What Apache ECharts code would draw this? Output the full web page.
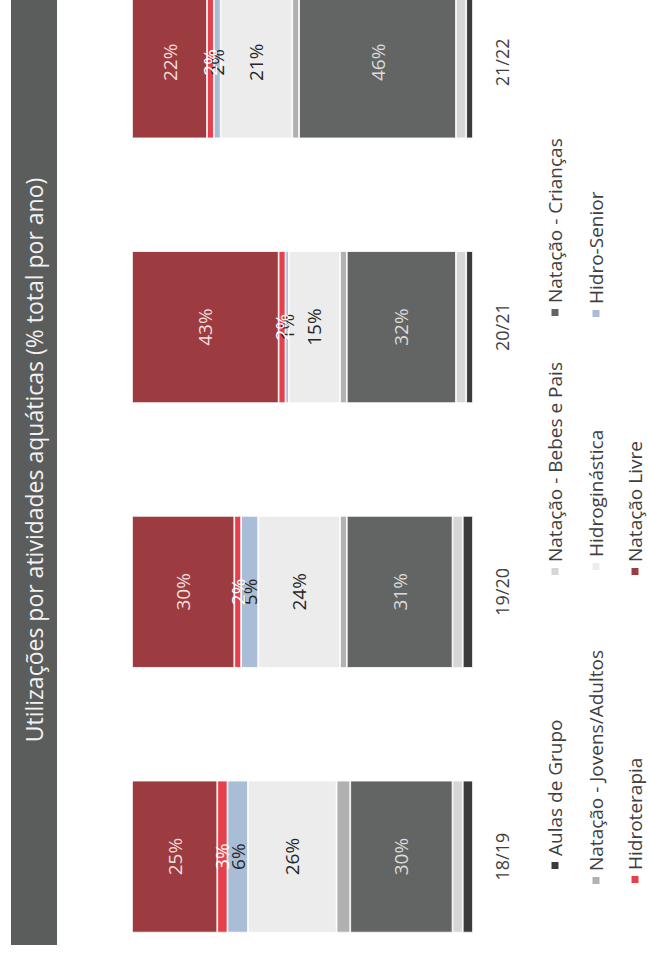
<!DOCTYPE html>
<html>
<head>
<meta charset="utf-8">
<script src="https://cdn.jsdelivr.net/npm/echarts@6/dist/echarts.min.js"></script>
<style>
  html, body { margin: 0; padding: 0; background: #fff; overflow: hidden; }
  #page { width: 649px; height: 964px; position: relative; overflow: hidden; }
  /* the chart is laid out landscape and turned a quarter to the left */
  #chart {
    position: absolute; left: 0; top: 0;
    width: 964px; height: 649px;
    transform-origin: 0 0;
    transform: translateY(964px) rotate(-90deg);
  }
</style>
</head>
<body>
<div id="page"><div id="chart"></div></div>
<script>
// Seasons
const seasons = ['18/19', '19/20', '20/21', '21/22'];

// Share of uses per activity (% of the season total), stacked from the base up
const aulasGrupo      = [3, 3, 2, 2];
const bebesPais       = [3, 3, 3, 3];
const criancas        = [30, 31, 32, 46];
const jovensAdultos   = [4, 2, 2, 2];
const hidroginastica  = [26, 24, 15, 21];
const hidroSenior     = [6, 5, 1, 2];
const hidroterapia    = [3, 2, 2, 2];
const natacaoLivre    = [25, 30, 43, 22];

const titleText = 'Utilizações por atividades aquáticas (% total por ano)';

const FONT = '"Open Sans", "Noto Sans", sans-serif';

function seg(name, data, color, labelColor) {
  return {
    name: name,
    type: 'bar',
    stack: 'total',
    data: data,
    barWidth: 152,
    itemStyle: { color: color, borderColor: '#ffffff', borderWidth: 0.8 },
    label: labelColor ? {
      show: true,
      position: 'inside',
      formatter: '{c}%',
      color: labelColor,
      fontFamily: FONT,
      fontSize: 19
    } : { show: false },
    emphasis: { disabled: true }
  };
}

const series = [
  seg('Aulas de Grupo', aulasGrupo, '#3b3b3b'),
  seg('Natação - Bebes e Pais', bebesPais, '#d6d6d6'),
  seg('Natação - Crianças', criancas, '#636564', '#dcdcdc'),
  seg('Natação - Jovens/Adultos', jovensAdultos, '#b1b1b1'),
  seg('Hidroginástica', hidroginastica, '#ececec', '#262626'),
  seg('Hidro-Senior', hidroSenior, '#aabdd6', '#262626'),
  seg('Hidroterapia', hidroterapia, '#e5414c', '#ffffff'),
  seg('Natação Livre', natacaoLivre, '#9d3c40', '#f3dede')
];

// one legend entry, placed by its marker's left edge and its row's centre line
function legendItem(name, left, rowCenter) {
  return {
    left: left,
    top: rowCenter - 11,
    data: [name],
    icon: 'rect',
    itemWidth: 9,
    itemHeight: 9,
    padding: 0,
    selectedMode: false,
    textStyle: { fontFamily: FONT, fontSize: 19, color: '#404040', lineHeight: 22 }
  };
}

const ROW1 = 555, ROW2 = 596, ROW3 = 635;

const chart = echarts.init(document.getElementById('chart'), null, { renderer: 'svg' });
chart.setOption({
  animation: false,
  backgroundColor: '#ffffff',
  graphic: [
    {
      type: 'rect',
      shape: { x: 19, y: 11, width: 960, height: 46 },
      style: { fill: '#5b5d5c' },
      silent: true
    },
    {
      type: 'text',
      x: 504, y: 34,
      style: {
        text: titleText,
        fill: '#f2f2f2',
        font: '23px ' + FONT,
        textAlign: 'center',
        textVerticalAlign: 'middle'
      },
      silent: true
    }
  ],
  grid: {
    left: -25, width: 1059, top: 132, bottom: 176,
    containLabel: false,
    outerBoundsMode: 'none'
  },
  xAxis: {
    type: 'category',
    data: seasons,
    axisLine: { show: false },
    axisTick: { show: false },
    axisLabel: { margin: 20, fontFamily: FONT, fontSize: 18, color: '#404040' }
  },
  yAxis: {
    type: 'value',
    min: 0,
    max: 100,
    show: false,
    splitLine: { show: false }
  },
  legend: [
    legendItem('Aulas de Grupo', 93, ROW1),
    legendItem('Natação - Bebes e Pais', 387, ROW1),
    legendItem('Natação - Crianças', 646, ROW1),
    legendItem('Natação - Jovens/Adultos', 78, ROW2),
    legendItem('Hidroginástica', 392, ROW2),
    legendItem('Hidro-Senior', 645, ROW2),
    legendItem('Hidroterapia', 79, ROW3),
    legendItem('Natação Livre', 387, ROW3)
  ],
  series: series
});
</script>
</body>
</html>
